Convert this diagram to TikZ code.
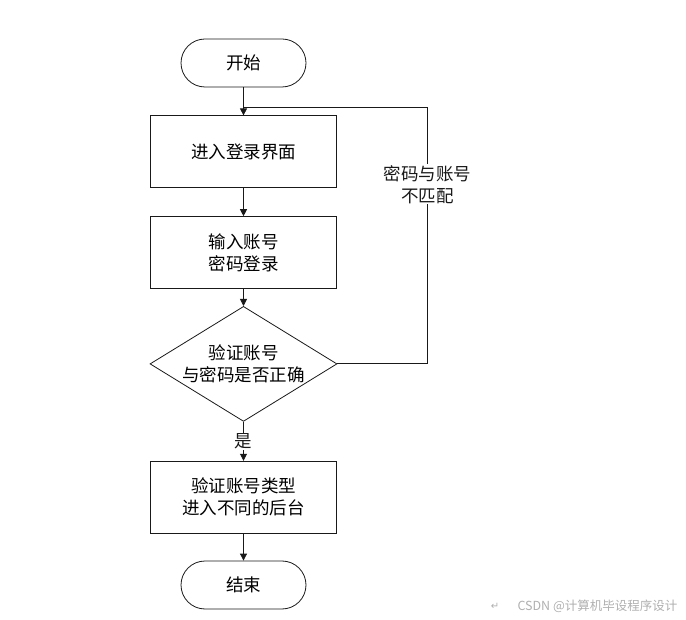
\documentclass[tikz,border=0pt]{standalone}
\usepackage{fontspec}
\setmainfont{Noto Sans CJK SC}
\newfontfamily\symfont{DejaVu Sans}
\usepackage{xcolor}
\definecolor{flowline}{RGB}{25, 25, 25}
\definecolor{markgray}{RGB}{175, 175, 175}
\usetikzlibrary{arrows.meta, positioning, shapes.geometric}

\begin{document}
\begin{tikzpicture}[
    x=1pt, y=1pt,
    node distance=28pt,
    font=\fontsize{17.5}{22}\selectfont,
    term/.style={draw=flowline, line width=0.8pt, rounded corners=24pt,
                 minimum width=125pt, minimum height=48pt},
    proc/.style={draw=flowline, line width=0.8pt, align=center,
                 minimum width=186pt, minimum height=72pt},
    decide/.style={draw=flowline, line width=0.8pt, diamond, inner sep=0pt,
                   minimum width=187pt, minimum height=115pt},
    note/.style={fill=white, align=center, inner sep=1pt},
    arr/.style={-{Triangle[length=7pt, width=7pt]}, flowline, line width=0.8pt},
    link/.style={flowline, line width=0.8pt}
  ]
  \useasboundingbox (0,0) rectangle (686,-620);

  \node[term] (start) at (243.5,-63) {开始};
  \node[proc, below=of start] (login) {进入登录界面};
  \node[proc, below=of login] (input) {输入账号\\密码登录};
  \node[decide, below=17pt of input,
        label={[align=center]center:验证账号\\与密码是否正确}] (check) {};
  \node[proc, below=39pt of check] (route) {验证账号类型\\进入不同的后台};
  \node[term, below=27pt of route] (finish) {结束};
  \coordinate (merge) at ([yshift=8pt]login.north);

  \draw[arr] (start)  -- (login);
  \draw[arr] (login)  -- (input);
  \draw[arr] (input)  -- (check);
  \draw[arr] (check)  -- node[note] {是} (route);
  \draw[arr] (route)  -- (finish);
  % back to the login page
  \draw[link] (check.east) -- ++(90,0) coordinate (bend)
    -- (bend |- merge) node[note, pos=0.7] {密码与账号\\不匹配}
    -- (merge);

  \node[text=markgray, font=\symfont\fontsize{10}{12}\selectfont] (ret) at (495,-606) {↵};
  \node[text=markgray, font=\fontsize{12.5}{14}\selectfont, anchor=west] (mark)
    at (514,-606) {CSDN @计算机毕设程序设计};
\end{tikzpicture}
\end{document}
